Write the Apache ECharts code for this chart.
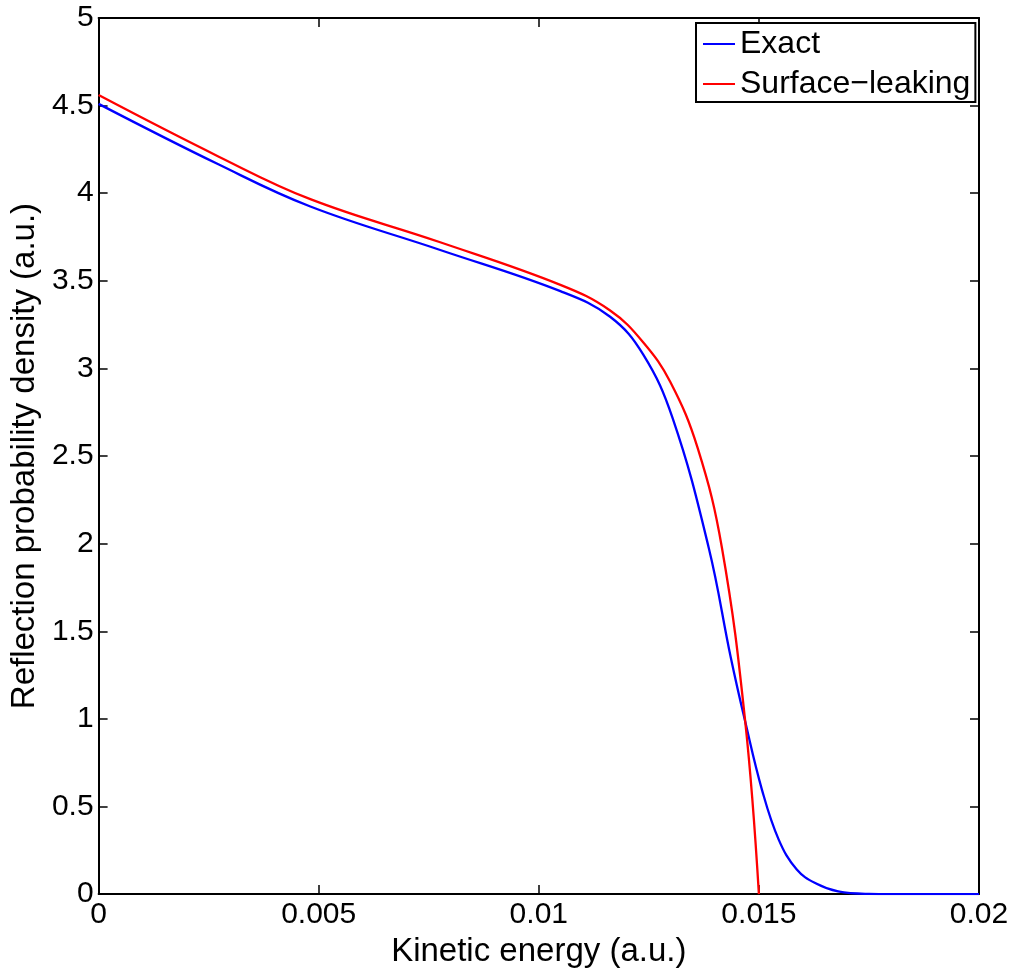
<!DOCTYPE html>
<html>
<head>
<meta charset="utf-8">
<title>Reflection probability density</title>
<script src="https://cdn.jsdelivr.net/npm/echarts@6/dist/echarts.min.js"></script>
<style>
  html, body { margin: 0; padding: 0; background: #ffffff; }
  #chart { width: 1018px; height: 973px; }
</style>
</head>
<body>
<div id="chart"></div>
<script>
// Kinetic energy (a.u.) and reflection probability density, exact solution
const exactEnergy = [0, 0.00272, 0.00481, 0.00776, 0.01049, 0.01162, 0.01237, 0.01304,
  0.01386, 0.01436, 0.01469, 0.01507, 0.01545, 0.01586, 0.0163, 0.0168, 0.0175, 0.018, 0.02];
const exactDensity = [4.51, 4.165, 3.924, 3.676, 3.441, 3.295, 3.08, 2.716,
  1.977, 1.352, 0.983, 0.595, 0.311, 0.14, 0.06, 0.015, 0.001, 0, 0];

// Surface-leaking approximation
const leakEnergy = [0, 0.00272, 0.00481, 0.00776, 0.01049, 0.01162, 0.01237, 0.012985,
  0.01361, 0.01416, 0.01469, 0.0150];
const leakDensity = [4.56, 4.21, 3.966, 3.72, 3.477, 3.331, 3.15, 2.924,
  2.545, 1.977, 0.983, 0];

// Axis ranges: [min, max, interval]
const xRange = [0, 0.02, 0.005];
const yRange = [0, 5, 0.5];

const seriesNames = ['Exact', 'Surface\u2212leaking'];

const pair = (xs, ys) => xs.map((x, i) => [x, ys[i]]);

const font = 'Liberation Sans, Arial, Helvetica, sans-serif';
const axisLine = { show: true, onZero: false, lineStyle: { color: '#000', width: 2 } };
const tick = { show: true, inside: true, length: 9, lineStyle: { color: '#000', width: 1.5 } };

const chart = echarts.init(document.getElementById('chart'), null, { renderer: 'canvas' });
chart.setOption({
  backgroundColor: '#ffffff',
  animation: false,
  grid: { left: 98, right: 39, top: 18, bottom: 75, containLabel: false },
  legend: {
    orient: 'vertical',
    left: 696,
    top: 23,
    data: seriesNames,
    icon: 'rect',
    itemWidth: 32,
    itemHeight: 2,
    itemGap: 8,
    padding: [5, 5, 2, 7],
    borderColor: '#000',
    borderWidth: 2,
    backgroundColor: '#fff',
    textStyle: { fontFamily: font, fontSize: 32, color: '#000', lineHeight: 32 }
  },
  xAxis: [{
    type: 'value',
    min: xRange[0], max: xRange[1], interval: xRange[2],
    name: 'Kinetic energy (a.u.)',
    nameLocation: 'middle',
    nameGap: 34,
    nameTextStyle: { fontFamily: font, fontSize: 33, color: '#000' },
    axisLine: axisLine,
    axisTick: tick,
    axisLabel: { margin: 6, fontFamily: font, fontSize: 30, color: '#000' },
    splitLine: { show: false }
  }, {
    type: 'value', position: 'top',
    min: xRange[0], max: xRange[1], interval: xRange[2],
    axisLine: axisLine, axisTick: tick,
    axisLabel: { show: false }, splitLine: { show: false }
  }],
  yAxis: [{
    type: 'value',
    min: yRange[0], max: yRange[1], interval: yRange[2],
    name: 'Reflection probability density (a.u.)',
    nameLocation: 'middle',
    nameGap: 50,
    nameTextStyle: { fontFamily: font, fontSize: 33, color: '#000' },
    axisLine: axisLine,
    axisTick: tick,
    axisLabel: { margin: 5, fontFamily: font, fontSize: 30, color: '#000' },
    splitLine: { show: false }
  }, {
    type: 'value', position: 'right',
    min: yRange[0], max: yRange[1], interval: yRange[2],
    axisLine: axisLine, axisTick: tick,
    axisLabel: { show: false }, splitLine: { show: false }
  }],
  series: [{
    name: seriesNames[0],
    type: 'line',
    data: pair(exactEnergy, exactDensity),
    showSymbol: false, symbol: 'none',
    smooth: 0.4,
    lineStyle: { color: '#0000ff', width: 2.3 },
    itemStyle: { color: '#0000ff' }
  }, {
    name: seriesNames[1],
    type: 'line',
    data: pair(leakEnergy, leakDensity),
    showSymbol: false, symbol: 'none',
    smooth: 0.4,
    lineStyle: { color: '#ff0000', width: 2.3 },
    itemStyle: { color: '#ff0000' }
  }]
});
</script>
</body>
</html>
